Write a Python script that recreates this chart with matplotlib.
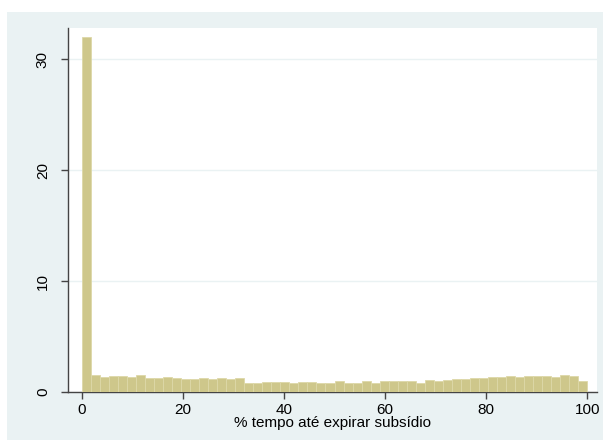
import numpy as np
import matplotlib
matplotlib.use('Agg')
import matplotlib.pyplot as plt
from matplotlib.patches import Rectangle

plt.rcParams['font.family'] = ['Liberation Sans', 'DejaVu Sans']

# histogram of % tempo ate expirar subsidio, 56 bins over 0..100 (percent)
bin_edges = np.linspace(0, 100, 57)
percent = [32.0, 1.50, 1.35, 1.40, 1.43, 1.34, 1.55, 1.30, 1.30, 1.35, 1.29, 1.20, 1.20,
           1.22, 1.17, 1.25, 1.14, 1.22,
           0.82, 0.82, 0.90, 0.90, 0.90, 0.82, 0.90, 0.90, 0.82,
           0.82, 0.98, 0.82, 0.82, 0.98, 0.82, 0.95, 0.95, 0.95, 0.95, 0.82, 1.07, 0.95, 1.12, 1.16,
           1.16, 1.25, 1.25, 1.31, 1.31, 1.40, 1.37, 1.40, 1.43, 1.43, 1.31, 1.49, 1.46, 0.98]
xticks = [0, 20, 40, 60, 80, 100]
yticks = [0, 10, 20, 30]

bg = '#EAF2F3'
fig = plt.figure(figsize=(6.03, 4.43), dpi=100, facecolor='white')
fig.patches.append(Rectangle((7/603, 3/443), 1 - 7/603, 1 - 15/443,
                             transform=fig.transFigure, facecolor=bg,
                             edgecolor='none', zorder=-10))

ax = fig.add_axes([68/603, 1 - 392/443, (597 - 68)/603, (392 - 28)/443])
ax.set_zorder(5)
ax.set_facecolor('white')
ax.bar(bin_edges[:-1], percent, width=np.diff(bin_edges), align='edge',
       color='#CEC78B', edgecolor='#DDD8A8', linewidth=0.6, zorder=3)

ax.set_xlim(-2.7, 101.9)
ax.set_ylim(0, 32.8)
ax.set_xticks(xticks)
ax.set_yticks(yticks)
ax.yaxis.grid(True, color=bg, linewidth=1.0, zorder=0)
ax.set_axisbelow(True)

for s in ['top', 'right']:
    ax.spines[s].set_visible(False)
for s in ['left', 'bottom']:
    ax.spines[s].set_color('#444444')
    ax.spines[s].set_linewidth(1.0)

ax.tick_params(axis='both', direction='out', length=5, width=1, color='#444444',
               labelsize=11, pad=3)
plt.setp(ax.get_yticklabels(), rotation=90, va='center')
ax.tick_params(axis='y', pad=8)
ax.set_xlabel('% tempo até expirar subsídio', fontsize=11, labelpad=-1)

plt.savefig('out.png', dpi=100, facecolor=fig.get_facecolor())
